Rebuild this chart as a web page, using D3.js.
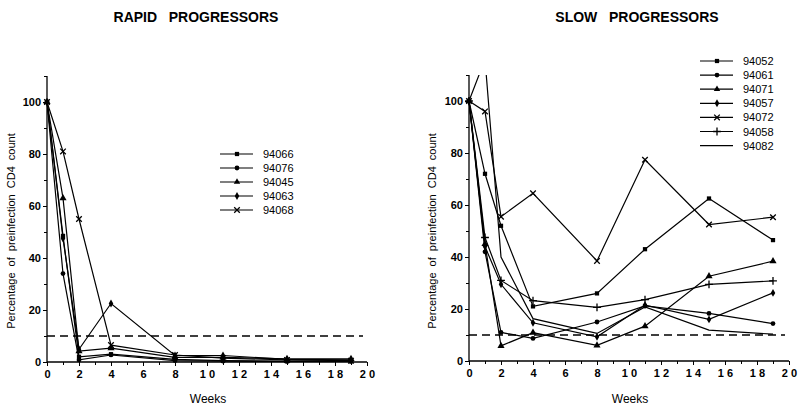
<!DOCTYPE html>
<html><head><meta charset="utf-8">
<script src="https://cdn.jsdelivr.net/npm/d3@7"></script>
<style>
body{margin:0;background:#fff;}
text{font-family:"Liberation Sans",Arial,sans-serif;fill:#000;}
</style></head><body>
<svg id="c" width="800" height="411"></svg>
<script>
const weeks = [0, 1, 2, 4, 8, 11, 15, 19];
const xTicks = [0, 2, 4, 6, 8, 10, 12, 14, 16, 18, 20];
const yTicks = [0, 20, 40, 60, 80, 100];

const rapidNames = ["94066", "94076", "94045", "94063", "94068"];
const rapidSymbols = ["square", "circle", "triangle", "diamond", "x"];
const r94066 = [100, 48.5, 2, 3, 1, 0.5, 0.3, 0.3];
const r94076 = [100, 34, 0.8, 2.7, 0.5, 0.3, 0.2, 0.2];
const r94045 = [100, 63, 4.2, 5.3, 1.8, 1.8, 1.2, 1.2];
const r94063 = [100, 47.5, 4.9, 22.5, 2.5, 2.5, 1, 0.8];
const r94068 = [100, 81, 55, 6.5, 2.7, 1.5, 0.8, 0.5];

const slowNames = ["94052", "94061", "94071", "94057", "94072", "94058", "94082"];
const slowSymbols = ["square", "circle", "triangle", "diamond", "x", "plus", "none"];
const s94052 = [100, 72, 52, 21, 26, 43, 62.5, 46.5];
const s94061 = [100, 42, 11, 8.7, 15, 21.2, 18.3, 14.4];
const s94071 = [100, 45, 5.8, 10.9, 6, 13.4, 32.6, 38.4];
const s94057 = [100, 44, 29.5, 14.7, 9.3, 21.5, 16, 26.2];
const s94072 = [100, 96, 55.5, 64.5, 38.5, 77.4, 52.5, 55.3];
const s94058 = [100, 47.5, 31, 23.2, 20.6, 23.6, 29.5, 30.8];
const s94082 = [100, 116, 40, 16.3, 10.6, 20.8, 11.9, 10.3];
const threshold = 10;

const svg = d3.select("#c");

const symMap = {
  square: d3.symbolSquare, circle: d3.symbolCircle, triangle: d3.symbolTriangle,
  diamond: d3.symbolDiamond, x: d3.symbolX, plus: d3.symbolPlus
};

function drawPanel(cfg) {
  const x = d3.scaleLinear().domain([0, 20]).range([cfg.x0, cfg.x0 + 320]);
  const y = d3.scaleLinear().domain([0, 110]).range([cfg.y0, cfg.y0 - 286]);
  const g = svg.append("g");
  const clipId = "clip" + cfg.id;
  svg.append("clipPath").attr("id", clipId).append("rect")
    .attr("x", cfg.x0 - 5).attr("y", y(110)).attr("width", 340).attr("height", cfg.y0 - y(110) + 5);

  // axes
  const yAx = g.append("g").attr("transform", `translate(${cfg.x0},0)`)
    .call(d3.axisLeft(y).tickValues(yTicks).tickSize(4).tickPadding(2).tickFormat(d3.format("d")));
  yAx.select(".domain").attr("d", `M0,${cfg.y0}V${y(110)}`).attr("stroke-width", 1.3);
  yAx.selectAll("text").attr("font-size", 11).attr("font-weight", "bold");
  g.append("g").attr("transform", `translate(${cfg.x0},0)`)
    .call(d3.axisLeft(y).tickValues(d3.range(10, 111, 20)).tickSize(3).tickFormat(""))
    .select(".domain").remove();

  const xAx = g.append("g").attr("transform", `translate(0,${cfg.y0})`)
    .call(d3.axisBottom(x).tickValues(xTicks).tickSize(4).tickPadding(4).tickFormat(d => String(d).split("").join(" ")));
  xAx.select(".domain").attr("d", `M${cfg.x0},0H${x(20)}`).attr("stroke-width", 1.3);
  xAx.selectAll("text").attr("font-size", 11).attr("font-weight", "bold");
  g.append("g").attr("transform", `translate(0,${cfg.y0})`)
    .call(d3.axisBottom(x).tickValues(d3.range(1, 20, 2)).tickSize(3).tickFormat(""))
    .select(".domain").remove();

  // threshold
  g.append("line").attr("x1", cfg.x0).attr("x2", x(20) - 4)
    .attr("y1", y(threshold)).attr("y2", y(threshold))
    .attr("stroke", "#000").attr("stroke-width", 1.3).attr("stroke-dasharray", "8,5");

  // series
  const line = d3.line().x((d, i) => x(weeks[i])).y(d => y(d));
  const sg = g.append("g").attr("clip-path", `url(#${clipId})`);
  cfg.series.forEach((vals, k) => {
    sg.append("path").attr("d", line(vals)).attr("fill", "none")
      .attr("stroke", "#000").attr("stroke-width", 1.2);
    const s = cfg.symbols[k];
    if (s !== "none") {
      const isStroke = (s === "x" || s === "plus");
      sg.selectAll(null).data(vals).enter().append("path")
        .attr("transform", (d, i) => `translate(${x(weeks[i])},${y(d)})`)
        .attr("d", d3.symbol().type(symMap[s]).size(isStroke ? 22 : (s === "triangle" ? 22 : 18)))
        .attr("fill", isStroke ? "none" : "#000")
        .attr("stroke", isStroke ? "#000" : "none").attr("stroke-width", 1.3);
    }
  });

  // legend
  const lg = g.append("g");
  cfg.names.forEach((n, k) => {
    const ly = cfg.legY + k * cfg.legDy;
    lg.append("line").attr("x1", cfg.legX).attr("x2", cfg.legX + 33)
      .attr("y1", ly).attr("y2", ly).attr("stroke", "#000").attr("stroke-width", 1.2);
    const s = cfg.symbols[k];
    if (s !== "none") {
      const isStroke = (s === "x" || s === "plus");
      lg.append("path").attr("transform", `translate(${cfg.legX + 17},${ly})`)
        .attr("d", d3.symbol().type(symMap[s]).size(isStroke ? 22 : 18))
        .attr("fill", isStroke ? "none" : "#000")
        .attr("stroke", isStroke ? "#000" : "none").attr("stroke-width", 1.3);
    }
    lg.append("text").attr("x", cfg.legX + 43).attr("y", ly + 4)
      .attr("font-size", 11).text(n);
  });

  // labels
  g.append("text").attr("x", cfg.x0 + 161).attr("y", 403).attr("text-anchor", "middle")
    .attr("font-size", 12).text("Weeks");
  g.append("text").attr("transform", `translate(${cfg.yLabX},231) rotate(-90)`)
    .attr("text-anchor", "middle").attr("font-size", 11).attr("word-spacing", 3)
    .text("Percentage of preinfection CD4 count");
  g.append("text").attr("x", cfg.titleX).attr("y", 22).attr("text-anchor", "middle")
    .attr("font-size", 14).attr("font-weight", "bold").attr("xml:space", "preserve")
    .style("white-space", "pre").text(cfg.title);
}

drawPanel({
  id: "L", x0: 47, y0: 362, series: [r94066, r94076, r94045, r94063, r94068],
  names: rapidNames, symbols: rapidSymbols, legX: 220, legY: 154, legDy: 14,
  yLabX: 15, titleX: 196, title: "RAPID   PROGRESSORS"
});
drawPanel({
  id: "R", x0: 469, y0: 361, series: [s94052, s94061, s94071, s94057, s94072, s94058, s94082],
  names: slowNames, symbols: slowSymbols, legX: 700, legY: 61, legDy: 14.1,
  yLabX: 436, titleX: 637, title: "SLOW   PROGRESSORS"
});
</script>
</body></html>
